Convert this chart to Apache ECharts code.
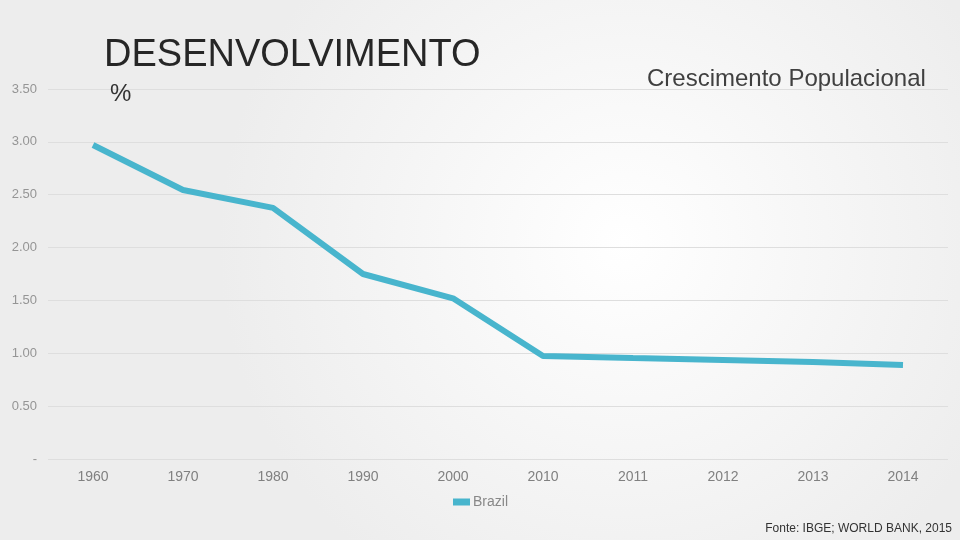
<!DOCTYPE html>
<html>
<head>
<meta charset="utf-8">
<script src="https://cdn.jsdelivr.net/npm/echarts@6/dist/echarts.min.js"></script>
<style>html,body{margin:0;padding:0;}#c{width:960px;height:540px;}</style>
</head>
<body>
<div id="c"></div>
<script>
const categories = ['1960','1970','1980','1990','2000','2010','2011','2012','2013','2014'];
const brazil = [2.97, 2.545, 2.375, 1.75, 1.52, 0.975, 0.955, 0.937, 0.918, 0.89];
const yTicks = [0, 0.5, 1.0, 1.5, 2.0, 2.5, 3.0, 3.5];

const chart = echarts.init(document.getElementById('c'));
chart.setOption({
  backgroundColor: {
    type: 'radial', x: 0.65, y: 0.45, r: 0.75,
    colorStops: [{offset: 0, color: '#ffffff'}, {offset: 1, color: '#ededed'}]
  },
  animation: false,
  textStyle: {fontFamily: 'Liberation Sans'},
  title: [
    {text: 'DESENVOLVIMENTO', left: 99, top: 32, textStyle: {fontSize: 38, fontWeight: 'normal', color: '#262626', fontFamily: 'Liberation Sans'}},
    {text: '%', left: 105, top: 77, textStyle: {fontSize: 24, fontWeight: 'normal', color: '#333', fontFamily: 'Liberation Sans'}},
    {text: 'Crescimento Populacional', left: 642, top: 62, textStyle: {fontSize: 24, fontWeight: 'normal', color: '#404040', fontFamily: 'Liberation Sans'}},
    {text: 'Fonte: IBGE; WORLD BANK, 2015', right: 3, top: 518, textStyle: {fontSize: 12, fontWeight: 'normal', color: '#333', fontFamily: 'Liberation Sans'}}
  ],
  legend: {
    data: ['Brazil'], left: 448, top: 490, itemWidth: 17, itemHeight: 7, itemGap: 4,
    icon: 'rect',
    textStyle: {fontSize: 14, color: '#888', padding: [0, 0, 0, -2]}
  },
  grid: {left: 48, right: 12, top: 89, bottom: 81},
  xAxis: {
    type: 'category', data: categories, boundaryGap: true,
    axisLine: {show: false}, axisTick: {show: false},
    axisLabel: {fontSize: 14, color: '#808080', margin: 11}
  },
  yAxis: {
    type: 'value', min: 0, max: 3.5, interval: 0.5,
    axisLine: {show: false}, axisTick: {show: false},
    splitLine: {lineStyle: {color: '#dedede', width: 1}},
    axisLabel: {fontSize: 13, color: '#959595', margin: 11,
      formatter: v => v === 0 ? '-' : v.toFixed(2)}
  },
  series: [{
    name: 'Brazil', type: 'line', data: brazil,
    symbol: 'none', color: '#48b5cd',
    lineStyle: {width: 6, color: '#48b5cd'}
  }]
});
</script>
</body>
</html>
